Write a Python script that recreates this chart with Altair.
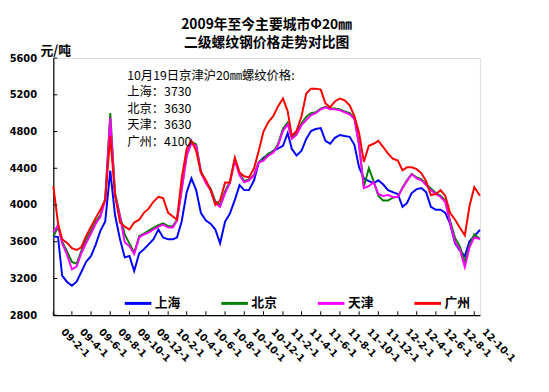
import altair as alt
import pandas as pd

# ---------------- data ----------------
dates = [
    "2009-02-01", "2009-02-16", "2009-03-01", "2009-03-16", "2009-04-01", "2009-04-16",
    "2009-05-01", "2009-05-16", "2009-06-01", "2009-06-16", "2009-07-01", "2009-07-16",
    "2009-08-01", "2009-08-16", "2009-09-01", "2009-09-16", "2009-10-01", "2009-10-16",
    "2009-11-01", "2009-11-16", "2009-12-01", "2009-12-16",
    "2010-01-01", "2010-01-16", "2010-02-01", "2010-02-16", "2010-03-01", "2010-03-16",
    "2010-04-01", "2010-04-16", "2010-05-01", "2010-05-16", "2010-06-01", "2010-06-16",
    "2010-07-01", "2010-07-16", "2010-08-01", "2010-08-16", "2010-09-01", "2010-09-16",
    "2010-10-01", "2010-10-16", "2010-11-01", "2010-11-16", "2010-12-01", "2010-12-16",
    "2011-01-01", "2011-01-16", "2011-02-01", "2011-02-16", "2011-03-01", "2011-03-16",
    "2011-04-01", "2011-04-16", "2011-05-01", "2011-05-16", "2011-06-01", "2011-06-16",
    "2011-07-01", "2011-07-16", "2011-08-01", "2011-08-16", "2011-09-01", "2011-09-16",
    "2011-10-01", "2011-10-16", "2011-11-01", "2011-11-16", "2011-12-01", "2011-12-16",
    "2012-01-01", "2012-01-16", "2012-02-01", "2012-02-16", "2012-03-01", "2012-03-16",
    "2012-04-01", "2012-04-16", "2012-05-01", "2012-05-16", "2012-06-01", "2012-06-16",
    "2012-07-01", "2012-07-16", "2012-08-01", "2012-08-16", "2012-09-01", "2012-09-16",
    "2012-10-01", "2012-10-19",
]

shanghai = [3660, 3650, 3230, 3165, 3120, 3165, 3270, 3380, 3445, 3572,
            3722, 3820, 4375, 3894, 3626, 3430, 3445, 3280, 3475, 3518,
            3572, 3626, 3733, 3647, 3626, 3626, 3647, 3820, 4140, 4290,
            4162, 3915, 3830, 3797, 3733, 3583, 3820, 3905, 4055, 4216,
            4162, 4162, 4269, 4462, 4515, 4548, 4591, 4613, 4645, 4784,
            4613, 4538, 4591, 4720, 4806, 4827, 4838, 4699, 4667, 4731,
            4763, 4752, 4742, 4656, 4410, 4290, 4260, 4237, 4269, 4226,
            4162, 4140, 4120, 3980, 4020, 4130, 4173, 4184, 4140, 3980,
            3948, 3948, 3915, 3797, 3583, 3507, 3443, 3604, 3660, 3730]

beijing = [3660, 3760, 3600, 3500, 3380, 3360, 3500, 3620, 3720, 3820,
           3890, 4070, 5000, 4140, 3880, 3680, 3580, 3480, 3660, 3690,
           3720, 3750, 3780, 3800, 3770, 3770, 3840, 4170, 4540, 4690,
           4660, 4370, 4250, 4180, 4040, 4000, 4150, 4250, 4500, 4340,
           4260, 4280, 4330, 4470, 4500, 4560, 4580, 4660, 4830, 4900,
           4740, 4780, 4890, 4960, 5000, 5010, 5050, 5070, 5050, 5050,
           5040, 5020, 5000, 4950, 4660, 4200, 4400, 4260, 4100, 4050,
           4050, 4080, 4090, 4190, 4270, 4340, 4300, 4280, 4230, 4180,
           4130, 4100, 4050, 3830, 3640, 3550, 3380, 3560, 3680, 3630]

tianjin = [3700, 3780, 3583, 3465, 3300, 3330, 3475, 3583, 3690, 3797,
           3875, 4055, 4950, 4109, 3875, 3594, 3550, 3465, 3647, 3679,
           3700, 3733, 3765, 3787, 3755, 3755, 3830, 4162, 4538, 4677,
           4645, 4355, 4237, 4162, 4020, 3980, 4130, 4237, 4484, 4323,
           4248, 4269, 4323, 4462, 4484, 4538, 4570, 4645, 4806, 4880,
           4720, 4763, 4870, 4924, 4978, 5000, 5042, 5063, 5042, 5042,
           5031, 5010, 4988, 4935, 4645, 4184, 4205, 4248, 4120, 4098,
           4109, 4087, 4087, 4184, 4260, 4334, 4291, 4269, 4216, 4162,
           4120, 4087, 4033, 3808, 3594, 3518, 3325, 3540, 3647, 3630]

guangzhou = [4205, 3800, 3626, 3590, 3530, 3510, 3540, 3660, 3765, 3860,
             3950, 4055, 4750, 4110, 3810, 3765, 3733, 3810, 3840, 3915,
             3960, 4035, 4090, 4075, 3915, 3875, 3840, 4290, 4613, 4700,
             4590, 4355, 4270, 4162, 4000, 4050, 4245, 4245, 4515, 4355,
             4313, 4300, 4400, 4591, 4800, 4900, 4967, 5074, 5160, 5020,
             4752, 4806, 4967, 5214, 5267, 5267, 5257, 5107, 5063, 5128,
             5160, 5140, 5085, 4967, 4784, 4470, 4645, 4667, 4699, 4634,
             4560, 4505, 4484, 4377, 4410, 4410, 4390, 4345, 4260, 4109,
             4120, 4162, 4098, 3915, 3840, 3755, 3670, 3990, 4195, 4100]

cities = ["上海", "北京", "天津", "广州"]
colors = ["#0000FF", "#008000", "#FF00FF", "#FF0000"]

y_ticks = [2800, 3200, 3600, 4000, 4400, 4800, 5200, 5600]
tick_dates = [
    "2009-02-01", "2009-04-01", "2009-06-01", "2009-08-01", "2009-10-01", "2009-12-01",
    "2010-02-01", "2010-04-01", "2010-06-01", "2010-08-01", "2010-10-01", "2010-12-01",
    "2011-02-01", "2011-04-01", "2011-06-01", "2011-08-01", "2011-10-01", "2011-12-01",
    "2012-02-01", "2012-04-01", "2012-06-01", "2012-08-01", "2012-10-01",
]

title_line1 = "2009年至今主要城市Φ20㎜"
title_line2 = "二级螺纹钢价格走势对比图"
note_lines = ["10月19日京津沪20㎜螺纹价格:", "上海：3730", "北京：3630", "天津：3630", "广州：4100"]
unit_label = "元/吨"

# ---------------- build table ----------------
rows = []
for city, vals in zip(cities, [shanghai, beijing, tianjin, guangzhou]):
    for d, v in zip(dates, vals):
        rows.append({"date": d, "city": city, "price": v})
df = pd.DataFrame(rows)

W, H = 433, 261
CJK = "Noto Sans CJK SC"
NUM = "DejaVu Sans"


def dt(s):
    y, m, d = (int(p) for p in s.split("-"))
    return alt.DateTime(year=y, month=m, date=d, utc=True)


x_scale = alt.Scale(type="utc", domain=[dt("2009-02-01"), dt("2012-10-19")], nice=False)
y_scale = alt.Scale(domain=[2800, 5600], nice=False, zero=False)

x_axis = alt.Axis(
    values=[dt(s) for s in tick_dates], format="%y-%-m-%-d",
    labelAngle=45, labelAlign="left", labelBaseline="middle",
    labelOffset=9, labelPadding=15, ticks=False, grid=False,
    labelFont=NUM, labelFontSize=10, labelFontWeight="bold", labelColor="black",
    labelOverlap=False, labelFlush=False, domainColor="black", domainWidth=1.2,
    title=None,
)
y_axis = alt.Axis(
    values=y_ticks, format="d", ticks=False, grid=False, labelPadding=17,
    labelFont=NUM, labelFontSize=10, labelFontWeight="bold", labelColor="black",
    domainColor="black", domainWidth=1.2,
    title=unit_label, titleAngle=0, titleX=2, titleY=-1, titleAlign="center",
    titleBaseline="bottom", titleFont=CJK, titleFontSize=13, titleFontWeight="bold",
    titleColor="black",
)

lines = alt.Chart(df).mark_line(strokeWidth=2).encode(
    x=alt.X("date:T", scale=x_scale, axis=x_axis),
    y=alt.Y("price:Q", scale=y_scale, axis=y_axis),
    color=alt.Color(
        "city:N",
        scale=alt.Scale(domain=cities, range=colors),
        legend=alt.Legend(
            orient="none", legendX=71, legendY=292 - 56 - 2, direction="horizontal",
            columns=4, title=None, symbolType="stroke", symbolSize=729,
            symbolStrokeWidth=3, labelFont=CJK, labelFontSize=13,
            labelFontWeight="bold", labelColor="black", labelOffset=2,
            columnPadding=34, padding=0,
        ),
    ),
)

ytick = alt.Chart(pd.DataFrame({"price": y_ticks})).mark_rule(color="black").encode(
    y=alt.Y("price:Q", scale=y_scale, axis=y_axis),
    x=alt.value(0), x2=alt.value(4),
)
xtick = alt.Chart(pd.DataFrame({"date": tick_dates})).mark_rule(color="black").encode(
    x=alt.X("date:T", scale=x_scale, axis=x_axis),
    y=alt.value(H - 4), y2=alt.value(H),
)

note = alt.Chart(pd.DataFrame({"t": ["\n".join(note_lines)]})).mark_text(
    align="left", baseline="top", lineBreak="\n", lineHeight=16.8,
    font=CJK, fontSize=12.5, color="black",
).encode(x=alt.value(75), y=alt.value(12), text="t:N")

chart = alt.layer(lines, ytick, xtick, note).properties(
    width=W, height=H,
    autosize=alt.AutoSizeParams(type="none"),
    padding={"left": 46, "top": 48, "right": 62, "bottom": 67},
    title=alt.TitleParams(
        text=title_line1, subtitle=title_line2,
        font=CJK, fontSize=14, fontWeight="bold", color="black",
        subtitleFont=CJK, subtitleFontSize=14, subtitleFontWeight="bold",
        subtitleColor="black", subtitlePadding=4,
        anchor="middle", offset=-6,
    ),
).configure_view(stroke=None).configure(background="white")

chart.save("out.html", embed_options={"renderer": "svg", "actions": False})
